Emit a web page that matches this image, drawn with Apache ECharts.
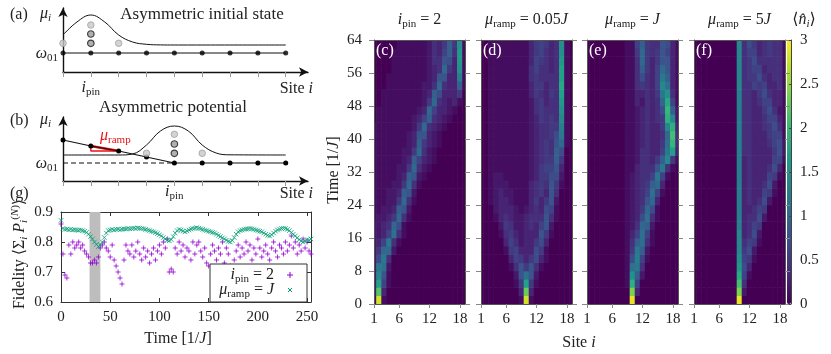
<!DOCTYPE html>
<html>
<head>
<meta charset="utf-8">
<script src="https://cdn.jsdelivr.net/npm/echarts@6/dist/echarts.min.js"></script>
<style>
  html, body { margin: 0; padding: 0; background: #fff; }
  #main { width: 831px; height: 354px; }
</style>
</head>
<body>
<div id="main"></div>
<script>
// ---- schematic panels (a) and (b): sites 1..9, levels in arbitrary units
var schemSites = [1, 2, 3, 4, 5, 6, 7, 8, 9];
var pinA = 2, pinB = 5;
var levelA = 1.9;
var gaussA = [[1, 3.7], [1.5, 5.0], [2, 5.7], [2.5, 5.0], [3, 3.7], [3.5, 3.0], [4, 2.77], [4.5, 2.71], [5, 2.7], [9, 2.7]];
var lightA = [[1, 2.87], [2, 4.7], [3, 2.87]];
var darkA = [[2, 3.8], [2, 2.87]];

var levelB = 1.8;
var rampB = [4.1, 3.5, 3.0, 2.4, 1.8, 1.8, 1.8, 1.8, 1.8];
var gaussB = [[1, 2.6], [3, 2.6], [3.5, 2.7], [4, 3.6], [4.5, 5.0], [5, 5.5], [5.5, 5.0], [6, 3.6], [6.5, 2.8], [7, 2.62], [9, 2.6]];
var lightB = [[4, 2.77], [5, 4.67], [6, 2.77]];
var darkB = [[5, 3.7], [5, 2.77]];
var rampTriangle = [[2, 3.5], [3, 3.0], [2, 3.0], [2, 3.5]];

// ---- (g) fidelity vs time
var fidTime = [0, 2, 4, 6, 8, 10, 12, 14, 16, 18, 20, 22, 24, 26, 28, 30, 32, 34, 36, 38,
  40, 42, 44, 46, 48, 50, 52, 54, 56, 58, 60, 62, 64, 66, 68, 70, 72, 74, 76, 78,
  80, 82, 84, 86, 88, 90, 92, 94, 96, 98, 100, 102, 104, 106, 108, 110, 112, 114, 116, 118,
  120, 122, 124, 126, 128, 130, 132, 134, 136, 138, 140, 142, 144, 146, 148, 150, 152, 154, 156, 158,
  160, 162, 164, 166, 168, 170, 172, 174, 176, 178, 180, 182, 184, 186, 188, 190, 192, 194, 196, 198,
  200, 202, 204, 206, 208, 210, 212, 214, 216, 218, 220, 222, 224, 226, 228, 230, 232, 234, 236, 238,
  240, 242, 244, 246, 248, 250, 252, 254];
var fidPin = [0.86, 0.76, 0.69, 0.68, 0.79, 0.76, 0.80, 0.78, 0.79, 0.80,
  0.78, 0.79, 0.77, 0.76, 0.75, 0.73, 0.73, 0.74, 0.73, 0.75,
  0.78, 0.79, 0.80, 0.78, 0.77, 0.75, 0.79, 0.74, 0.72, 0.70,
  0.68, 0.66, 0.74, 0.79, 0.77, 0.76, 0.79, 0.75, 0.77, 0.80,
  0.76, 0.74, 0.78, 0.75, 0.77, 0.73, 0.76, 0.78, 0.74, 0.77,
  0.79, 0.76, 0.80, 0.78, 0.81, 0.70, 0.71, 0.70, 0.78, 0.76,
  0.80, 0.77, 0.79, 0.75, 0.78, 0.77, 0.74, 0.80, 0.76, 0.79,
  0.80, 0.77, 0.75, 0.78, 0.73, 0.72, 0.76, 0.79, 0.77, 0.74,
  0.78, 0.76, 0.80, 0.73, 0.78, 0.76, 0.72, 0.70, 0.74, 0.77,
  0.79, 0.75, 0.78, 0.76, 0.80, 0.77, 0.79, 0.74, 0.78, 0.76,
  0.81, 0.78, 0.75, 0.77, 0.79, 0.76, 0.74, 0.78, 0.80, 0.77,
  0.75, 0.79, 0.78, 0.76, 0.80, 0.77, 0.79, 0.82, 0.78, 0.80,
  0.76, 0.79, 0.77, 0.81, 0.78, 0.80, 0.77, 0.76];
var fidRamp = [0.872, 0.845, 0.842, 0.843, 0.841, 0.842, 0.840, 0.841, 0.840, 0.839,
  0.840, 0.838, 0.836, 0.832, 0.826, 0.818, 0.810, 0.800, 0.792, 0.785,
  0.790, 0.800, 0.815, 0.830, 0.838, 0.840, 0.842, 0.840, 0.842, 0.843,
  0.841, 0.843, 0.844, 0.843, 0.845, 0.844, 0.845, 0.846, 0.845, 0.847,
  0.846, 0.845, 0.844, 0.842, 0.840, 0.838, 0.836, 0.834, 0.831, 0.828,
  0.824, 0.820, 0.815, 0.810, 0.806, 0.804, 0.808, 0.818, 0.830, 0.838,
  0.842, 0.840, 0.836, 0.834, 0.837, 0.840, 0.843, 0.845, 0.846, 0.848,
  0.846, 0.844, 0.842, 0.840, 0.838, 0.836, 0.834, 0.832, 0.830, 0.826,
  0.822, 0.818, 0.814, 0.810, 0.806, 0.802, 0.800, 0.805, 0.815, 0.826,
  0.834, 0.838, 0.840, 0.842, 0.843, 0.844, 0.845, 0.844, 0.842, 0.840,
  0.838, 0.836, 0.834, 0.830, 0.826, 0.822, 0.820, 0.824, 0.830, 0.836,
  0.840, 0.843, 0.845, 0.846, 0.845, 0.842, 0.838, 0.832, 0.826, 0.820,
  0.814, 0.808, 0.803, 0.800, 0.803, 0.808, 0.806, 0.810];
var shadeSpan = [29, 40];
var timeTicks = [0, 50, 100, 150, 200, 250];

// ---- density maps (c)-(f): one string per time row (bottom row first),
// one char per site 1..19, char = base-36 digit, value = digit / 10
var heatSites = [1, 2, 3, 4, 5, 6, 7, 8, 9, 10, 11, 12, 13, 14, 15, 16, 17, 18, 19];
var heatTimes = [0, 2, 4, 6, 8, 10, 12, 14, 16, 18, 20, 22, 24, 26, 28, 30,
  32, 34, 36, 38, 40, 42, 44, 46, 48, 50, 52, 54, 56, 58, 60, 62];
var siteTicks = [1, 6, 12, 18];

var densPin2 = [
  "1s10000000000000000",
  "2m30000000000000000",
  "2h61000000000000000",
  "2e81000000000000000",
  "2cb2000000000000000",
  "27c4000000000000000",
  "25aa200000000000000",
  "236c410000000000000",
  "2236b41000000000000",
  "2234a71000000000000",
  "12235a4100000000000",
  "1122398200000000000",
  "111225a410000000000",
  "1112239820000000000",
  "1111225a41000000000",
  "1111123982100000000",
  "11111225a4210000000",
  "1111112396321000000",
  "111111225a421000000",
  "1111111239532100000",
  "1111111238832100000",
  "1111111125a43210000",
  "0111111123694321000",
  "01111111123a6332100",
  "001111111125a432310",
  "0011111111239733350",
  "0001111111224a43391",
  "00011111111238833d1",
  "00001111111234a53f1",
  "00001111111244873g1",
  "00001111111243694g1",
  "00000111111243595f1"
];
var densRamp005 = [
  "000000001s100000000",
  "000000003n300000000",
  "000000015h510000000",
  "000000028b820000000",
  "0000001485841000000",
  "0000003653573100000",
  "0000015633375100000",
  "0000036423357300000",
  "0000145323338510000",
  "0000254223436820000",
  "0001343223444841000",
  "0002333212343761000",
  "0012332111353582000",
  "0012322111345384000",
  "0012221111345485100",
  "0012211111235577200",
  "0011111111235668300",
  "0011111111234559500",
  "0011111111234549700",
  "0011111111234548a10",
  "0011111111234457c10",
  "0011111111234455d10",
  "0011111111235454e10",
  "0011111111245444f10",
  "0011111111245344g10",
  "0011111111354354h10",
  "0011111111355344i10",
  "0011111111454444h10",
  "0011111111464434h10",
  "0011111111365434g10",
  "0011111111356434f10",
  "0011111111356534f10"
];
var densRamp1 = [
  "000000000t000000000",
  "000000000o300000000",
  "000000001j600000000",
  "000000001f920000000",
  "000000001bc40000000",
  "0000000017d61000000",
  "0000000015c92000000",
  "00000000149b4100000",
  "00000000136b6100000",
  "00000000124a9200000",
  "000000001237b410000",
  "000000001235a710000",
  "0000000012348a30000",
  "0000000012346b61000",
  "00000000123459a3000",
  "00000000123446c6100",
  "000000001134448c410",
  "0000000011244359e51",
  "0000000011244336ch3",
  "0000000011234335bk4",
  "0000000011234334al4",
  "0000000011234335ej3",
  "0000000011234345je2",
  "0000000011234347k92",
  "000000001132434ai61",
  "000000001133435cf41",
  "000000001145436eb31",
  "000000001147436c931",
  "000000001149536a831",
  "00000000114a5358831",
  "00000000115a5458631",
  "0000000011695448731"
];
var densRamp5 = [
  "000000000t000000000",
  "000000000o200000000",
  "000000000l400000000",
  "000000000i610000000",
  "000000000g730000000",
  "000000000f651000000",
  "000000000e572000000",
  "000000000e465100000",
  "000000000e347200000",
  "000000000d346500000",
  "000000000d344720000",
  "000000000d334650000",
  "000000000d343472000",
  "000000000d343365100",
  "000000000d343347200",
  "000000000d343336510",
  "000000000d343334730",
  "000000000d343333661",
  "000000000d443333572",
  "000000000d443334672",
  "000000000d443335661",
  "000000000d443345741",
  "000000000d443346631",
  "000000000d443357421",
  "000000000d443466331",
  "000000000d443574331",
  "000000000e446563341",
  "000000000e455743441",
  "000000000e456634441",
  "000000000e457444441",
  "000000000e466345441",
  "000000000e475345441"
];
var heatPanels = [densPin2, densRamp005, densRamp1, densRamp5];

var viridis = ['#440154', '#482878', '#3e4989', '#31688e', '#26828e',
  '#1f9e89', '#35b779', '#6ece58', '#b5de2b', '#fde725'];

var FONT = "'Liberation Serif', 'DejaVu Serif', serif";
var INK = '#222';

function richStyles(color, size) {
    var L = Math.round(size * 1.25), sub = Math.round(size * 0.7);
    function st(extra) {
        var o = {fontFamily: FONT, fontSize: size, color: color, fill: color, lineHeight: L};
        for (var k in extra) o[k] = extra[k];
        return o;
    }
    return {
        r: st({}),
        m: st({fontStyle: 'italic'}),
        s: st({fontSize: sub, lineHeight: L - 9, verticalAlign: 'bottom'}),
        si: st({fontSize: sub, fontStyle: 'italic', lineHeight: L - 9, verticalAlign: 'bottom'}),
        p: st({fontSize: sub, lineHeight: L - 9, verticalAlign: 'top'}),
        pi: st({fontSize: sub, fontStyle: 'italic', lineHeight: L - 9, verticalAlign: 'top'})
    };
}

function txt(x, y, text, o) {
    o = o || {};
    var size = o.size || 16, color = o.color || INK;
    return {
        type: 'text', x: x, y: y, z: 100, rotation: o.rot || 0, silent: true,
        style: {
            text: text, rich: richStyles(color, size), fontFamily: FONT, fontSize: size, fill: color,
            align: o.align || 'left', verticalAlign: 'middle'
        }
    };
}

var PLUS = 'path://M0,5L10,5M5,0L5,10';
var CROSS = 'path://M0,0L10,10M10,0L0,10';

var chart = echarts.init(document.getElementById('main'));

// grids
var heatLefts = [374, 481, 587, 694];
var grids = [
    {left: 63, top: 8, width: 245, height: 64},
    {left: 63, top: 117, width: 245, height: 64},
    {left: 61, top: 212, width: 250, height: 90}
];
heatLefts.forEach(function (l) {
    grids.push({left: l, top: 40, width: 91, height: 264});
});
grids.push({left: 787, top: 40, width: 4, height: 264});

function schemX(gi, pin, margin) {
    return {
        type: 'value', gridIndex: gi, min: 1, max: 9.8,
        axisLine: {show: true, onZero: false, symbol: ['none', 'arrow'], symbolSize: [7, 9],
            lineStyle: {color: '#111', width: 1.4}},
        axisTick: {show: true, inside: false, length: 5, customValues: schemSites, lineStyle: {color: '#999'}},
        axisLabel: {show: true, customValues: [pin], margin: margin, rich: richStyles(INK, 16),
            formatter: function () { return '{m|i}{s|pin}'; }},
        splitLine: {show: false}
    };
}
function schemY(gi) {
    return {
        type: 'value', gridIndex: gi, min: 0, max: 6.4,
        axisLine: {show: true, onZero: false, symbol: ['none', 'arrow'], symbolSize: [7, 9],
            lineStyle: {color: '#111', width: 1.4}},
        axisTick: {show: false}, axisLabel: {show: false}, splitLine: {show: false}
    };
}

var numLabel = {fontFamily: FONT, fontSize: 15, color: INK};

var xAxes = [schemX(0, pinA, 6), schemX(1, pinB, 1),
    {
        type: 'value', gridIndex: 2, min: 0, max: 254,
        axisLine: {show: true, onZero: false, lineStyle: {color: '#333'}},
        axisTick: {show: true, inside: true, length: 4, customValues: timeTicks, lineStyle: {color: '#333'}},
        axisLabel: Object.assign({customValues: timeTicks, margin: 8}, numLabel),
        splitLine: {show: false}
    },
    {
        type: 'value', gridIndex: 2, position: 'top', min: 0, max: 254,
        axisLine: {show: true, onZero: false, lineStyle: {color: '#333'}},
        axisTick: {show: true, inside: true, length: 4, customValues: timeTicks, lineStyle: {color: '#333'}},
        axisLabel: {show: false}, splitLine: {show: false}
    }
];
var yAxes = [schemY(0), schemY(1),
    {
        type: 'value', gridIndex: 2, min: 0.6, max: 0.9, interval: 0.1,
        axisLine: {show: true, onZero: false, lineStyle: {color: '#333'}},
        axisTick: {show: true, inside: true, length: 4, lineStyle: {color: '#333'}},
        axisLabel: Object.assign({margin: 8, formatter: function (v) { return v.toFixed(1); }}, numLabel),
        splitLine: {show: false}
    },
    {
        type: 'value', gridIndex: 2, position: 'right', min: 0.6, max: 0.9, interval: 0.1,
        axisLine: {show: true, onZero: false, lineStyle: {color: '#333'}},
        axisTick: {show: true, inside: true, length: 4, lineStyle: {color: '#333'}},
        axisLabel: {show: false}, splitLine: {show: false}
    }
];

// heat axes: bottom x 4..7, top x 8..11 ; left y 4..7, right y 8..11
heatLefts.forEach(function (l, i) {
    xAxes.push({
        type: 'value', gridIndex: 3 + i, min: 1, max: 19, z: 5,
        axisLine: {show: true, onZero: false, lineStyle: {color: '#555'}},
        axisTick: {show: true, inside: false, length: 4, customValues: siteTicks, lineStyle: {color: '#888'}},
        axisLabel: Object.assign({customValues: siteTicks, margin: 8}, numLabel),
        splitLine: {show: false}
    });
    yAxes.push({
        type: 'value', gridIndex: 3 + i, min: 0, max: 64, interval: 8, z: 5,
        axisLine: {show: true, onZero: false, lineStyle: {color: '#555'}},
        axisTick: {show: true, inside: false, length: 5, lineStyle: {color: '#888'}},
        axisLabel: Object.assign({show: i === 0, margin: 12}, numLabel),
        splitLine: {show: false}
    });
});
heatLefts.forEach(function (l, i) {
    xAxes.push({
        type: 'value', gridIndex: 3 + i, position: 'top', min: 1, max: 19, z: 5,
        axisLine: {show: true, onZero: false, lineStyle: {color: '#555'}},
        axisTick: {show: false}, axisLabel: {show: false}, splitLine: {show: false}
    });
    yAxes.push({
        type: 'value', gridIndex: 3 + i, position: 'right', min: 0, max: 64, interval: 8, z: 5,
        axisLine: {show: true, onZero: false, lineStyle: {color: '#555'}},
        axisTick: {show: true, inside: false, length: 5, lineStyle: {color: '#888'}},
        axisLabel: {show: false}, splitLine: {show: false}
    });
});
// colorbar axes (index 12)
xAxes.push({type: 'value', gridIndex: 7, min: 0, max: 1, show: false});
yAxes.push({
    type: 'value', gridIndex: 7, position: 'right', min: 0, max: 3, interval: 0.5, z: 10,
    axisLine: {show: true, onZero: false, lineStyle: {color: '#444'}},
    axisTick: {show: true, inside: true, length: 2, lineStyle: {color: '#444'}},
    axisLabel: Object.assign({margin: 9}, numLabel),
    splitLine: {show: false}
});

var base = {silent: true, animation: false};
function S(o) { return Object.assign({}, base, o); }

var series = [
    // (a)
    S({type: 'line', xAxisIndex: 0, yAxisIndex: 0, data: [[schemSites[0], levelA], [schemSites[8], levelA]],
        symbol: 'none', lineStyle: {color: '#111', width: 1}, z: 2}),
    S({type: 'line', xAxisIndex: 0, yAxisIndex: 0, data: gaussA, smooth: 0.4,
        symbol: 'none', lineStyle: {color: '#111', width: 1}, z: 2}),
    S({type: 'scatter', xAxisIndex: 0, yAxisIndex: 0, data: schemSites.map(function (s) { return [s, levelA]; }),
        symbolSize: 5, itemStyle: {color: '#000'}, z: 4}),
    S({type: 'scatter', xAxisIndex: 0, yAxisIndex: 0, data: lightA, symbolSize: 6.5,
        itemStyle: {color: '#c8c8c8', borderColor: '#a0a0a0', borderWidth: 1}, z: 4}),
    S({type: 'scatter', xAxisIndex: 0, yAxisIndex: 0, data: darkA, symbolSize: 6.5,
        itemStyle: {color: '#9c9c9c', borderColor: '#1a1a1a', borderWidth: 1.2}, z: 4}),
    // (b)
    S({type: 'line', xAxisIndex: 1, yAxisIndex: 1, data: [[schemSites[0], levelB], [pinB, levelB]],
        symbol: 'none', lineStyle: {color: '#111', width: 1.2, type: [5, 3]}, z: 2}),
    S({type: 'line', xAxisIndex: 1, yAxisIndex: 1, data: gaussB, smooth: 0.4,
        symbol: 'none', lineStyle: {color: '#111', width: 1}, z: 2}),
    S({type: 'line', xAxisIndex: 1, yAxisIndex: 1, data: rampTriangle, symbol: 'none',
        lineStyle: {color: '#e8121a', width: 1.4}, z: 3}),
    S({type: 'line', xAxisIndex: 1, yAxisIndex: 1, data: rampTriangle.slice(0, 2), symbol: 'none',
        lineStyle: {color: '#e8121a', width: 2.6}, z: 3}),
    S({type: 'line', xAxisIndex: 1, yAxisIndex: 1, data: schemSites.map(function (s, i) { return [s, rampB[i]]; }),
        symbol: 'circle', symbolSize: 5, showAllSymbol: true, itemStyle: {color: '#000'},
        lineStyle: {color: '#111', width: 1.1}, z: 4}),
    S({type: 'scatter', xAxisIndex: 1, yAxisIndex: 1, data: lightB, symbolSize: 6.5,
        itemStyle: {color: '#c8c8c8', borderColor: '#a0a0a0', borderWidth: 1}, z: 4}),
    S({type: 'scatter', xAxisIndex: 1, yAxisIndex: 1, data: darkB, symbolSize: 6.5,
        itemStyle: {color: '#9c9c9c', borderColor: '#1a1a1a', borderWidth: 1.2}, z: 4}),
    // (g)
    S({type: 'scatter', xAxisIndex: 2, yAxisIndex: 2,
        data: fidTime.map(function (t, i) { return [t, fidPin[i]]; }),
        symbol: PLUS, symbolSize: 5, itemStyle: {color: 'transparent', borderColor: '#9400d3', borderWidth: 1}, z: 3,
        markArea: {silent: true, itemStyle: {color: '#bdbdbd'},
            data: [[{xAxis: shadeSpan[0]}, {xAxis: shadeSpan[1]}]]}}),
    S({type: 'scatter', xAxisIndex: 2, yAxisIndex: 2,
        data: fidTime.map(function (t, i) { return [t, fidRamp[i]]; }),
        symbol: CROSS, symbolSize: 4.5, itemStyle: {color: 'transparent', borderColor: '#009e73', borderWidth: 1}, z: 4})
];

var rowSpan = heatTimes[1] - heatTimes[0];
function renderCell(params, api) {
    var s = api.value(0), t = api.value(1);
    var p0 = api.coord([s - 0.5, t + rowSpan]);
    var p1 = api.coord([s + 0.5, t]);
    var cs = params.coordSys;
    var r = echarts.graphic.clipRectByRect(
        {x: p0[0] - 0.3, y: p0[1] - 0.3, width: p1[0] - p0[0] + 0.6, height: p1[1] - p0[1] + 0.6},
        {x: cs.x, y: cs.y, width: cs.width, height: cs.height});
    return r && {type: 'rect', shape: r, style: {fill: api.visual('color')}};
}

var heatSeriesIdx = [];
heatPanels.forEach(function (rows, i) {
    var data = [];
    for (var k = 0; k < heatTimes.length; k++) {
        for (var j = 0; j < heatSites.length; j++) {
            var ch = rows[k].charAt(j);
            data.push([heatSites[j], heatTimes[k], ch ? parseInt(ch, 36) / 10 : 0]);
        }
    }
    heatSeriesIdx.push(series.length);
    series.push(S({type: 'custom', xAxisIndex: 4 + i, yAxisIndex: 4 + i, renderItem: renderCell,
        data: data, encode: {x: 0, y: 1}, z: 2}));
});

var graphics = [
    // (a)
    txt(10, 15, '{r|(a)}'),
    txt(40, 14, '{m|μ}{si|i}'),
    txt(202, 15, '{r|Asymmetric initial state}', {align: 'center', size: 17}),
    txt(58, 54, '{m|ω}{s|01}', {align: 'right'}),
    txt(313, 89, '{r|Site }{m|i}', {align: 'right'}),
    // (b)
    txt(173, 108, '{r|Asymmetric potential}', {align: 'center', size: 17}),
    txt(10, 121, '{r|(b)}'),
    txt(40, 120, '{m|μ}{si|i}'),
    txt(100, 136, '{m|μ}{s|ramp}', {color: '#e8121a'}),
    txt(58, 164, '{m|ω}{s|01}', {align: 'right'}),
    txt(313, 194, '{r|Site }{m|i}', {align: 'right'}),
    txt(10, 194, '{r|(g)}'),
    // (g) labels
    txt(20, 254, '{r|Fidelity ⟨Σ}{si|i}{r| }{m|P}{si|i}{p|(}{pi|N}{p|)}{r|⟩}', {align: 'center', rot: Math.PI / 2}),
    txt(178, 339, '{r|Time [1/}{m|J}{r|]}', {align: 'center'}),
    {type: 'rect', z: 90, silent: true, shape: {x: 210, y: 264, width: 97, height: 38},
        style: {fill: '#fff', stroke: '#333', lineWidth: 1}},
    txt(274, 275, '{m|i}{s|pin}{r| = 2}', {align: 'right'}),
    txt(274, 290, '{m|μ}{s|ramp}{r| = }{m|J}', {align: 'right'}),
    {type: 'polyline', z: 100, silent: true, shape: {points: [[287, 275], [293, 275]]}, style: {stroke: '#9400d3', lineWidth: 1}},
    {type: 'polyline', z: 100, silent: true, shape: {points: [[290, 272], [290, 278]]}, style: {stroke: '#9400d3', lineWidth: 1}},
    {type: 'polyline', z: 100, silent: true, shape: {points: [[288, 288], [292, 292]]}, style: {stroke: '#009e73', lineWidth: 1}},
    {type: 'polyline', z: 100, silent: true, shape: {points: [[292, 288], [288, 292]]}, style: {stroke: '#009e73', lineWidth: 1}},
    // heat maps
    txt(419.5, 20, '{m|i}{s|pin}{r| = 2}', {align: 'center'}),
    txt(526.5, 20, '{m|μ}{s|ramp}{r| = 0.05}{m|J}', {align: 'center'}),
    txt(632.5, 20, '{m|μ}{s|ramp}{r| = }{m|J}', {align: 'center'}),
    txt(739.5, 20, '{m|μ}{s|ramp}{r| = 5}{m|J}', {align: 'center'}),
    txt(804, 20, '{r|⟨}{m|n\u0302}{si|i}{r|⟩}', {align: 'center'}),
    txt(376, 51, '{r|(c)}', {color: '#fff'}),
    txt(483, 51, '{r|(d)}', {color: '#fff'}),
    txt(589, 51, '{r|(e)}', {color: '#fff'}),
    txt(696, 51, '{r|(f)}', {color: '#fff'}),
    txt(334, 170, '{r|Time [1/}{m|J}{r|]}', {align: 'center', rot: Math.PI / 2}),
    txt(579, 343, '{r|Site }{m|i}', {align: 'center'})
];

chart.setOption({
    animation: false,
    backgroundColor: '#fff',
    grid: grids,
    xAxis: xAxes,
    yAxis: yAxes,
    visualMap: {
        type: 'continuous', min: 0, max: 3, dimension: 2, seriesIndex: heatSeriesIdx,
        inRange: {color: viridis}, orient: 'vertical', left: 787, top: 40,
        itemWidth: 4, itemHeight: 264, calculable: false, padding: 0, hoverLink: false,
        realtime: false, z: 4
    },
    series: series,
    graphic: {elements: graphics}
});
</script>
</body>
</html>
